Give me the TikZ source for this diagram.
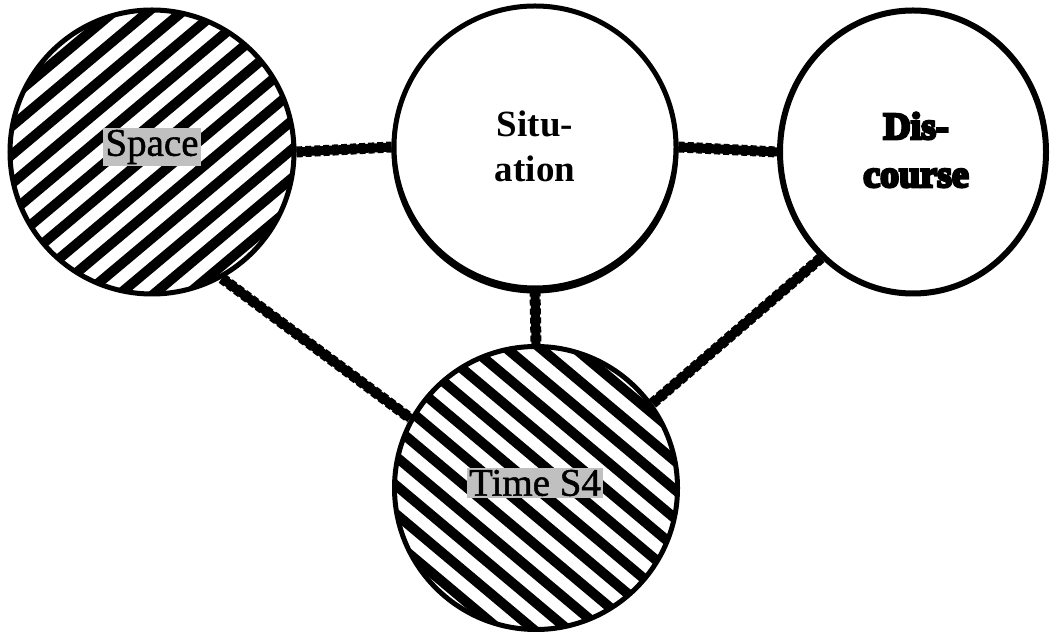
\documentclass[tikz,border=0pt]{standalone}
\usepackage{fontspec}
\setmainfont{Liberation Serif}
\newfontfamily\discfont[BoldFeatures={FakeBold=7}]{Liberation Serif}
\newfontfamily\tagfont[FakeBold=1.3]{Liberation Serif}
\usetikzlibrary{calc,shapes.geometric}
\definecolor{labelgray}{HTML}{C0C0C0}
\tikzset{
  ring/.style={draw=black, line width=5pt, fill=white, inner sep=0pt},
  hatch/.style={path picture={
    \foreach \d in {-242,-220,...,242}
      \draw[line width=10pt]
        ($(path picture bounding box.center)+({-\d*sin(#1)-260*cos(#1)},{\d*cos(#1)-260*sin(#1)})$)
        -- ++({520*cos(#1)},{520*sin(#1)});
  }},
  tag/.style={fill=labelgray, inner sep=2pt, font=\fontsize{39}{42}\selectfont\tagfont},
  word/.style={align=center, font=\fontsize{37}{45}\selectfont\bfseries},
  link/.style={line width=9pt, postaction={draw, line width=11pt, dash pattern=on 6pt off 3pt}}
}
\begin{document}
\begin{tikzpicture}[x=1pt,y=1pt]
  \useasboundingbox (0,0) rectangle (1051,637);

  % the four circles
  \node[ring, circle, minimum size=284pt, hatch=40] (space) at (152,485) {};
  \node[ring, circle, minimum size=282pt,
        preaction={draw, line width=5pt, transform canvas={yshift=-3pt}}] (situation) at (535,490) {};
  \node[ring, line width=6pt, ellipse, minimum width=266pt, minimum height=283pt] (discourse) at (913,485) {};
  \node[ring, circle, minimum size=283pt, hatch=-40] (time) at (536,149) {};

  % labels
  \node[tag] (spacelabel) at (152,490) {Space};
  \node[tag] (timelabel) at (535,154) {Time S4};
  \node[word] (situationlabel) at (535,491) {Situ-\\ation};
  \node[word, font=\fontsize{38}{48}\selectfont\discfont\bfseries] (discourselabel) at (916,487) {Dis-\\course};

  % connectors
  \draw[link] (space.east) -- (situation.west);
  \draw[link] (situation.east) -- (discourse.west);
  \draw[link] (situation.south) -- (time.north);
  \draw[link] (space.-61) -- (time.151);
  \draw[link] (discourse.229) -- (time.36);
\end{tikzpicture}
\end{document}
